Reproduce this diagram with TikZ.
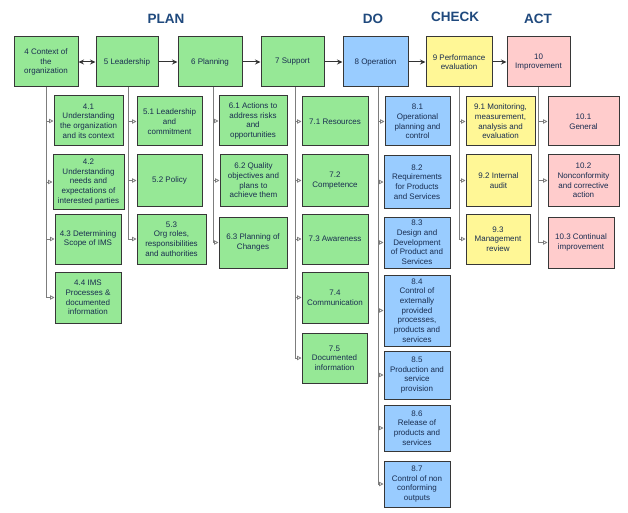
\documentclass[tikz,border=0pt]{standalone}
\usepackage{fontspec}
\setmainfont{Liberation Sans}
\usetikzlibrary{arrows.meta}
\definecolor{grn}{RGB}{150,232,150}
\definecolor{blu}{RGB}{153,204,255}
\definecolor{yel}{RGB}{255,247,150}
\definecolor{pnk}{RGB}{255,204,204}
\definecolor{bord}{RGB}{55,55,55}
\definecolor{txt}{RGB}{25,45,80}
\definecolor{ttl}{RGB}{31,73,125}
\definecolor{conng}{RGB}{125,125,125}
\tikzset{
  bx/.style={draw=bord, line width=1pt, align=center, inner sep=0.5pt, text=txt,
    font=\fontsize{8}{9.7}\selectfont},
  gbox/.style={bx, fill=grn},
  bbox/.style={bx, fill=blu},
  ybox/.style={bx, fill=yel},
  pbox/.style={bx, fill=pnk},
  ttlstyle/.style={text=ttl, font=\fontsize{13.5}{16}\selectfont\bfseries},
  toparrow/.style={draw=black!80, line width=1pt, -{Stealth[length=5.5pt,width=5pt]}},
  conn/.style={draw=conng, line width=0.8pt, -{Triangle[open,length=4.5pt,width=4.5pt]}}
}
\begin{document}
\begin{tikzpicture}[x=1pt,y=-1pt]
\useasboundingbox[fill=white] (0,0) rectangle (628,513);
% titles
\node[ttlstyle] (tplan) at (166,19) {PLAN};
\node[ttlstyle] (tdo) at (373,19) {DO};
\node[ttlstyle] (tcheck) at (455,17) {CHECK};
\node[ttlstyle] (tact) at (538,19) {ACT};
% top row
\node[gbox, minimum width=64pt, minimum height=50pt] (n4) at (46,62) {4 Context of\\the\\organization};
\node[gbox, minimum width=62pt, minimum height=50pt] (n5) at (127,62) {5 Leadership};
\node[gbox, minimum width=64pt, minimum height=50pt] (n6) at (210,62) {6 Planning};
\node[gbox, minimum width=63pt, minimum height=50pt] (n7) at (292.5,62) {7 Support};
\node[bbox, minimum width=65pt, minimum height=50pt] (n8) at (375.5,62) {8 Operation};
\node[ybox, minimum width=66pt, minimum height=50pt] (n9) at (459,62) {9 Performance\\evaluation};
\node[pbox, minimum width=63pt, minimum height=50pt] (n10) at (538.5,62) {10\\Improvement};
% column 4
\node[gbox, minimum width=69pt, minimum height=50pt] (n41) at (88.5,121) {4.1\\Understanding\\the organization\\and its context};
\node[gbox, minimum width=71pt, minimum height=54pt] (n42) at (88.5,182) {4.2\\Understanding\\needs and\\expectations of\\interested parties};
\node[gbox, minimum width=66pt, minimum height=50pt] (n43) at (88,239) {4.3 Determining\\Scope of IMS};
\node[gbox, minimum width=66pt, minimum height=51pt] (n44) at (88,297.5) {4.4 IMS\\Processes \&\\documented\\information};
% column 5
\node[gbox, minimum width=65pt, minimum height=49pt] (n51) at (169.5,121.5) {5.1 Leadership\\and\\commitment};
\node[gbox, minimum width=65pt, minimum height=51pt] (n52) at (169.5,180.5) {5.2 Policy};
\node[gbox, minimum width=69pt, minimum height=50pt] (n53) at (171.5,239) {5.3\\Org roles,\\responsibilities\\and authorities};
% column 6
\node[gbox, minimum width=68pt, minimum height=50pt] (n61) at (253,121) {6.1 Actions to\\address risks\\and\\opportunities};
\node[gbox, minimum width=67pt, minimum height=51pt] (n62) at (253.5,180.5) {6.2 Quality\\objectives and\\plans to\\achieve them};
\node[gbox, minimum width=68pt, minimum height=51pt] (n63) at (253,242.5) {6.3 Planning of\\Changes};
% column 7
\node[gbox, minimum width=66pt, minimum height=49pt] (n71) at (335,121.5) {7.1 Resources};
\node[gbox, minimum width=66pt, minimum height=51pt] (n72) at (335,180.5) {7.2\\Competence};
\node[gbox, minimum width=66pt, minimum height=50pt] (n73) at (335,239) {7.3 Awareness};
\node[gbox, minimum width=66pt, minimum height=51pt] (n74) at (335,297.5) {7.4\\Communication};
\node[gbox, minimum width=65pt, minimum height=50pt] (n75) at (334.5,358) {7.5\\Documented\\information};
% column 8
\node[bbox, minimum width=65pt, minimum height=49pt] (n81) at (417.5,121.5) {8.1\\Operational\\planning and\\control};
\node[bbox, minimum width=66pt, minimum height=52pt] (n82) at (417,182) {8.2\\Requirements\\for Products\\and Services};
\node[bbox, minimum width=66pt, minimum height=51pt] (n83) at (417,242.5) {8.3\\Design and\\Development\\of Product and\\Services};
\node[bbox, minimum width=66pt, minimum height=71pt] (n84) at (417,310.5) {8.4\\Control of\\externally\\provided\\processes,\\products and\\services};
\node[bbox, minimum width=66pt, minimum height=48pt] (n85) at (417,375) {8.5\\Production and\\service\\provision};
\node[bbox, minimum width=66pt, minimum height=46pt] (n86) at (417,428) {8.6\\Release of\\products and\\services};
\node[bbox, minimum width=66pt, minimum height=46pt] (n87) at (417,484) {8.7\\Control of non\\conforming\\outputs};
% column 9
\node[ybox, minimum width=69pt, minimum height=49pt] (n91) at (500.5,121.5) {9.1 Monitoring,\\measurement,\\analysis and\\evaluation};
\node[ybox, minimum width=65pt, minimum height=51pt] (n92) at (498.5,180.5) {9.2 Internal\\audit};
\node[ybox, minimum width=64pt, minimum height=50pt] (n93) at (498,239) {9.3\\Management\\review};
% column 10
\node[pbox, minimum width=71pt, minimum height=49pt] (n101) at (583.5,121.5) {10.1\\General};
\node[pbox, minimum width=71pt, minimum height=51pt] (n102) at (583.5,180.5) {10.2\\Nonconformity\\and corrective\\action};
\node[pbox, minimum width=66pt, minimum height=51pt] (n103) at (581,242.5) {10.3 Continual\\improvement};
% top arrows
\draw[toparrow, {Stealth[length=5.5pt,width=5pt]}-{Stealth[length=5.5pt,width=5pt]}] (n4) -- (n5);
\draw[toparrow] (n5) -- (n6);
\draw[toparrow] (n6) -- (n7);
\draw[toparrow] (n7) -- (n8);
\draw[toparrow] (n8) -- (n9);
\draw[toparrow] (n9) -- (n10);
% child connectors
\foreach \c in {n41,n42,n43,n44} \draw[conn] (n4.south) |- (\c.west);
\foreach \c in {n51,n52,n53} \draw[conn] ([xshift=1pt]n5.south) |- (\c.west);
\foreach \c in {n61,n62,n63} \draw[conn] ([xshift=3pt]n6.south) |- (\c.west);
\foreach \c in {n71,n72,n73,n74,n75} \draw[conn] ([xshift=2.5pt]n7.south) |- (\c.west);
\foreach \c in {n81,n82,n83,n84,n85,n86,n87} \draw[conn] ([xshift=2.5pt]n8.south) |- (\c.west);
\foreach \c in {n91,n92,n93} \draw[conn] (n9.south) |- (\c.west);
\foreach \c in {n101,n102,n103} \draw[conn] (n10.south) |- (\c.west);
\end{tikzpicture}
\end{document}
